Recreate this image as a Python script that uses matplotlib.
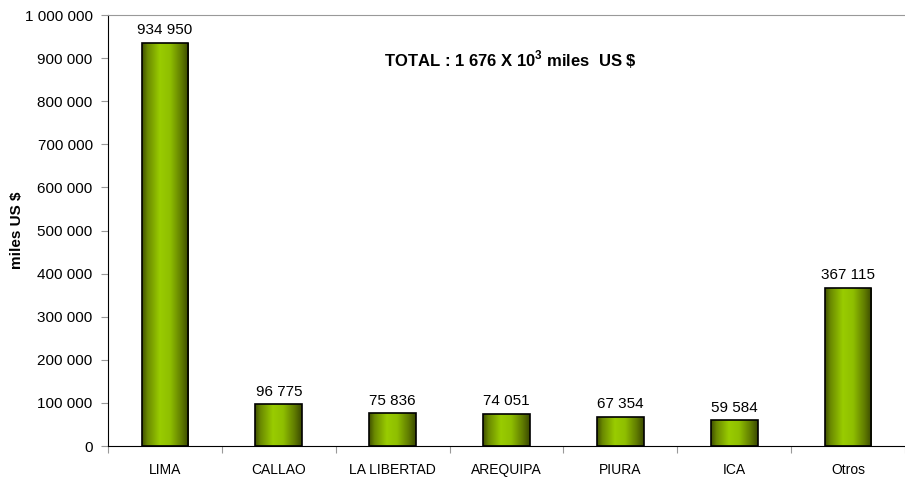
import numpy as np
import matplotlib
matplotlib.use("Agg")
import matplotlib.pyplot as plt
from matplotlib.colors import LinearSegmentedColormap
from matplotlib.ticker import FuncFormatter

plt.rcParams['font.family'] = ['Liberation Sans', 'DejaVu Sans']
plt.rcParams['mathtext.fontset'] = 'custom'
plt.rcParams['mathtext.bf'] = 'Liberation Sans:bold'

# ─── Data ──────────────────────────────────────────────────────────
regions = ['LIMA', 'CALLAO', 'LA LIBERTAD', 'AREQUIPA', 'PIURA', 'ICA', 'Otros']
values = [934950, 96775, 75836, 74051, 67354, 59584, 367115]
yticks = [0, 100000, 200000, 300000, 400000, 500000, 600000, 700000, 800000, 900000, 1000000]


def spaced(v, pos=None):
    return f"{int(v):,}".replace(",", " ")


# ─── Figure ────────────────────────────────────────────────────────
fig = plt.figure(figsize=(9.05, 4.79), dpi=100)
W, H = 905, 479
left, right, top, bottom = 108, 905, 15, 446
ax = fig.add_axes([left / W, 1 - bottom / H, (right - left) / W, (bottom - top) / H])

step = 115.17
x = np.arange(len(regions))
ax.set_xlim(-0.5, -0.5 + (right - left) / step)
ax.set_ylim(0, 1000000)

# horizontal gradient for the "cylinder" look
grad = LinearSegmentedColormap.from_list(
    'olive', [(0.0, '#3f4f00'), (0.12, '#6b8a00'), (0.38, '#99cc00'),
              (0.6, '#8fbf00'), (0.85, '#5f7a00'), (1.0, '#3a4800')])
gimg = np.linspace(0, 1, 256).reshape(1, -1)

width = 0.41
bars = ax.bar(x, values, width=width, color='none', edgecolor='black',
              linewidth=1.2, zorder=3)
for b in bars:
    x0, y0 = b.get_x(), b.get_y()
    im = ax.imshow(gimg, cmap=grad, aspect='auto', zorder=2,
                   extent=[x0, x0 + b.get_width(), y0, y0 + b.get_height()])
    im.set_clip_path(b)

for xi, v in zip(x, values):
    ax.text(xi, v + 13000, spaced(v), ha='center', va='bottom', fontsize=11)

ax.text(3.03, 896000, r'TOTAL : 1 676 X 10$^{\mathbf{3}}$ miles  US \$',
        ha='center', va='center', fontsize=12, fontweight='bold')

# ─── Axes styling ──────────────────────────────────────────────────
ax.set_yticks(yticks)
ax.yaxis.set_major_formatter(FuncFormatter(spaced))
ax.set_xticks(np.arange(len(regions) + 1) - 0.5, minor=False)
ax.set_xticklabels([])
ax.set_xticks(x, minor=True)
ax.set_xticklabels(regions, minor=True, fontsize=10)
ax.tick_params(axis='x', which='minor', length=0, pad=12)
ax.tick_params(axis='x', which='major', length=5, color='#999999', direction='out')
ax.tick_params(axis='y', length=5, color='#999999', direction='out', labelsize=11, pad=6)

ax.spines['right'].set_visible(False)
ax.spines['top'].set_color('#999999')
ax.spines['left'].set_color('black')
ax.spines['bottom'].set_color('black')

ax.set_ylabel('miles US $', fontsize=11, fontweight='bold')
ax.yaxis.set_label_coords(-84 / (right - left), 0.5)

fig.savefig('out.png', dpi=100)
